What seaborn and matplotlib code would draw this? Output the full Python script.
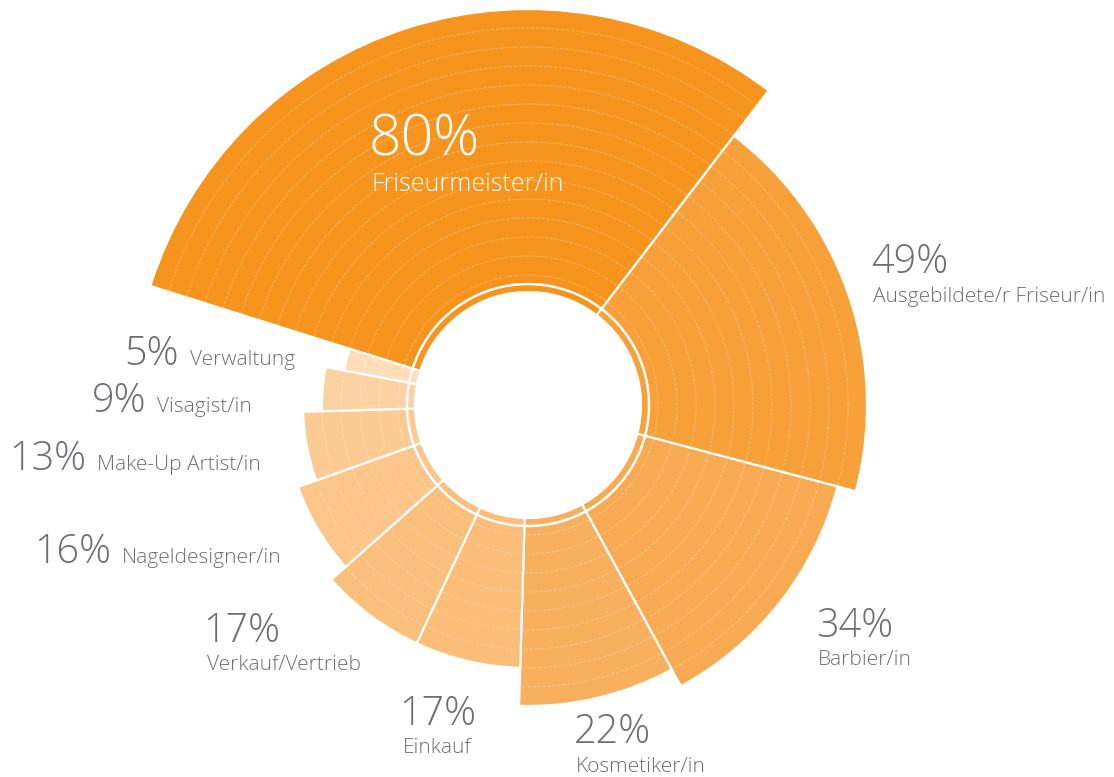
import numpy as np
import matplotlib
matplotlib.use("Agg")
import matplotlib.pyplot as plt
import seaborn as sns

# ---- data (clockwise, starting with the largest segment) ----
categories = ["Friseurmeister/in", "Ausgebildete/r Friseur/in", "Barbier/in",
              "Kosmetiker/in", "Einkauf", "Verkauf/Vertrieb", "Nageldesigner/in",
              "Make-Up Artist/in", "Visagist/in", "Verwaltung"]
percent = [80, 49, 34, 22, 17, 17, 16, 13, 9, 5]
# radial length of each bar, counted in concentric rings
ring_level = [15, 12, 11, 10, 8, 8, 7, 6, 5, 4]
pct_labels = [f"{p}%" for p in percent]

seg_colors = ["#F7941D", "#F8A03A", "#F8AA52", "#F9B05E", "#FBBD78",
              "#FBBF7C", "#FCC68A", "#FCCB93", "#FDD2A3", "#FEDDB8"]

sns.set_theme(style="white")
plt.rcParams['font.family'] = ['Open Sans', 'DejaVu Sans']
palette = sns.color_palette(seg_colors)

W, H = 1114, 777
fig = plt.figure(figsize=(W / 100, H / 100), dpi=100)
fig.patch.set_facecolor("white")

cx, cy, R = 528, 405, 400
ax = fig.add_axes([(cx - R) / W, 1 - (cy + R) / H, 2 * R / W, 2 * R / H],
                  projection="polar")
ax.set_theta_direction(-1)
ax.set_theta_offset(np.radians(162.5))
ax.set_ylim(0, R)
ax.axis("off")

vals = np.array(percent, dtype=float)
widths = vals / vals.sum() * 2 * np.pi
lefts = np.concatenate([[0], np.cumsum(widths)[:-1]])
hole, base, step = 113, 111, 19
heights = base + step * np.array(ring_level) - hole

ax.bar(lefts, heights, width=widths, bottom=hole, align="edge",
       color=palette, edgecolor="white", linewidth=1.6, zorder=2)

theta = np.linspace(0, 2 * np.pi, 1441)
for k in range(1, max(ring_level)):
    ax.plot(theta, np.full_like(theta, base + step * k), color="white",
            lw=0.6, alpha=0.35, ls=(0, (4, 2)), zorder=3)
ax.plot(theta, np.full_like(theta, 121), color="white", lw=1.8, zorder=4)

grey = "#6D6E71"


def P(x, y):
    return x / W, 1 - y / H


# stacked labels: (pct x, pct baseline, name x, name baseline, pct size, name size, color)
stacked = {
    0: (369, 155, 371, 191, 41, 18, "white"),
    1: (871, 273, 873, 302, 28.5, 15, grey),
    2: (816, 637, 818, 665, 28.5, 15, grey),
    3: (574, 743, 576, 772, 28.5, 15, grey),
    4: (399, 725, 403, 753, 28.5, 15, grey),
    5: (203, 642, 207, 670, 28.5, 15, grey),
}
for i, (px_, py_, nx, ny, ps, ns, col) in stacked.items():
    fig.text(*P(px_, py_), pct_labels[i], fontsize=ps, color=col,
             ha="left", va="baseline", fontweight="light")
    fig.text(*P(nx, ny), categories[i], fontsize=ns, color=col,
             ha="left", va="baseline", fontweight="light")

# inline labels: (name x, baseline)
inline = {6: (122, 563), 7: (97, 470), 8: (157, 412), 9: (190, 365)}
for i, (nx, ny) in inline.items():
    fig.text(*P(nx - 11, ny), pct_labels[i], fontsize=28.5, color=grey,
             ha="right", va="baseline", fontweight="light")
    fig.text(*P(nx, ny), categories[i], fontsize=15, color=grey,
             ha="left", va="baseline", fontweight="light")

fig.savefig("out.png", dpi=100, facecolor="white")
